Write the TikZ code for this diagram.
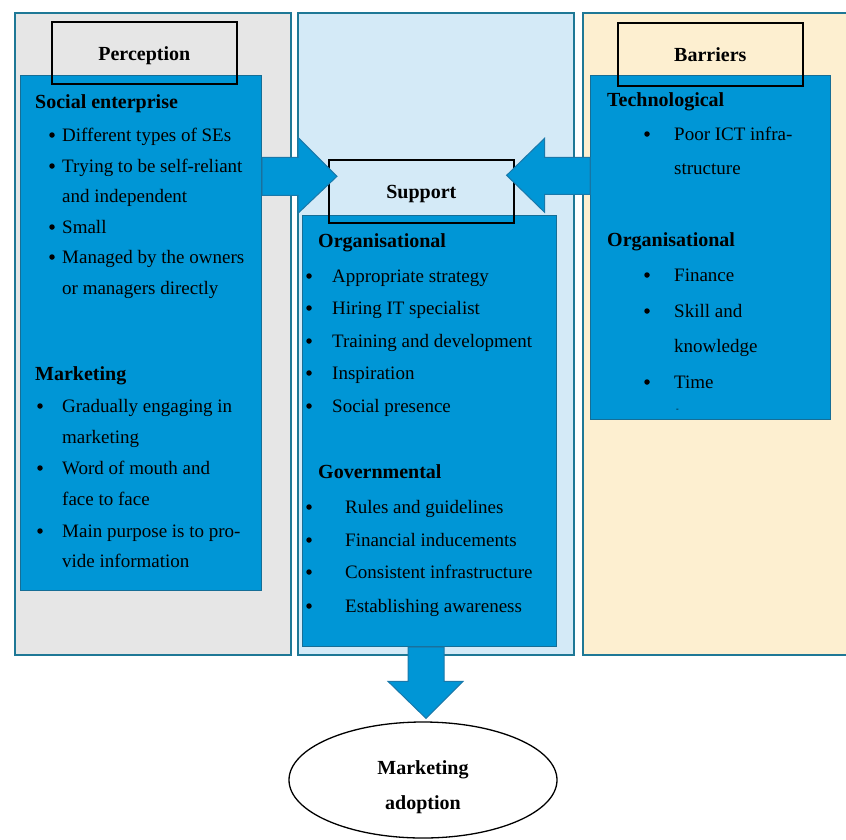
\documentclass[tikz,border=0pt]{standalone}
\usepackage{fontspec}
\setmainfont{Liberation Serif}
\usetikzlibrary{calc,shapes.geometric}

\definecolor{paneledge}{RGB}{30,120,150}
\definecolor{percgray}{RGB}{230,230,230}
\definecolor{suplight}{RGB}{212,234,247}
\definecolor{barcream}{RGB}{253,239,208}
\definecolor{boxblue}{RGB}{0,150,214}
\definecolor{boxedge}{RGB}{22,110,150}
\definecolor{arrowedge}{RGB}{25,120,170}

\newcommand{\headfont}{\fontsize{20}{24}\selectfont\bfseries}

\tikzset{
	panel/.style={rectangle, draw=paneledge, line width=2pt, anchor=north west, inner sep=0pt},
	bluebox/.style={rectangle, fill=boxblue, draw=boxedge, line width=1.2pt, anchor=north west, inner sep=0pt},
	titlebox/.style={rectangle, draw=black, line width=1.6pt, anchor=north west, inner sep=0pt, font=\headfont, text height=15pt, text depth=0pt},
	head/.style={anchor=base west, inner sep=0pt, font=\headfont},
	txt/.style={anchor=base west, inner sep=0pt},
	dot/.style={circle, fill=black, inner sep=0pt, minimum size=5.5pt},
	blockarrow/.style={fill=boxblue, draw=arrowedge, line width=1pt, line join=miter}
}

\begin{document}
\begin{tikzpicture}[x=1pt, y=-1pt, font=\fontsize{19}{23}\selectfont]
		\useasboundingbox (0,0) rectangle (846,839);
		\clip (0,0) rectangle (846,839);
		% Panels
		\node[panel, fill=percgray, minimum width=276pt, minimum height=642pt] (percpanel) at (14,12) {};
		\node[panel, fill=suplight, minimum width=276pt, minimum height=642pt] (suppanel) at (297,12) {};
		\node[panel, fill=barcream, minimum width=280pt, minimum height=642pt] (barpanel) at (582,12) {};
		% Blue boxes
		\node[bluebox, minimum width=241pt, minimum height=515pt] (percbox) at (20,75) {};
		\node[bluebox, minimum width=254pt, minimum height=431pt] (supbox) at (302,215) {};
		\node[bluebox, minimum width=240pt, minimum height=344pt] (barbox) at (590,75) {};
		% Title boxes
		\node[titlebox, minimum width=185pt, minimum height=62pt] (perctitle) at (51,21) {Perception};
		\node[titlebox, minimum width=185pt, minimum height=63pt] (suptitle) at (328,159) {Support};
		\node[titlebox, minimum width=185pt, minimum height=63pt] (bartitle) at (617,22) {Barriers};
		% Outcome
		\node[ellipse, draw, line width=1.3pt, minimum width=268pt, minimum height=116pt] (adopt) at (423,780) {};
		\node[align=center, inner sep=0pt, font=\fontsize{20}{35}\selectfont\bfseries] (adopttext) at ($(adopt.center)+(0,7)$) {Marketing\\adoption};
		% Arrows
		\coordinate (ltip) at ($(suptitle.west)+(9,-15)$);
		\coordinate (rtip) at ($(suptitle.east)+(-8,-16)$);
		\coordinate (dtip) at ($(adopt.north)+(3,-3)$);
		\draw[blockarrow] ($(percbox.east |- ltip)+(0,-19)$) -- ($(ltip)+(-39,-19)$) -- ($(ltip)+(-39,-39)$) -- (ltip)
			-- ($(ltip)+(-39,37)$) -- ($(ltip)+(-39,19)$) -- ($(percbox.east |- ltip)+(0,19)$) -- cycle;
		\draw[blockarrow] ($(barbox.west |- rtip)+(0,-18)$) -- ($(rtip)+(38,-18)$) -- ($(rtip)+(38,-37)$) -- (rtip)
			-- ($(rtip)+(38,37)$) -- ($(rtip)+(38,19)$) -- ($(barbox.west |- rtip)+(0,19)$) -- cycle;
		\draw[blockarrow] ($(dtip |- supbox.south)+(-18,0)$) -- ($(dtip)+(-18,-37)$) -- ($(dtip)+(-38,-37)$) -- (dtip)
			-- ($(dtip)+(37,-37)$) -- ($(dtip)+(18,-37)$) -- ($(dtip |- supbox.south)+(18,0)$) -- cycle;
		% Perception text
		\node[head] (se) at (35,108) {Social enterprise};
		\node[dot] (se1d) at (52,135) {};
		\node[txt] (se1) at (62,141) {Different types of SEs};
		\node[dot] (se2d) at (52,166) {};
		\node[txt] (se2) at (62,172) {Trying to be self-reliant};
		\node[txt] (se2b) at (62,202) {and independent};
		\node[dot] (se3d) at (52,227) {};
		\node[txt] (se3) at (62,233) {Small};
		\node[dot] (se4d) at (52,257) {};
		\node[txt] (se4) at (62,263) {Managed by the owners};
		\node[txt] (se4b) at (62,294) {or managers directly};
		\node[head] (mk) at (35,380) {Marketing};
		\node[dot] (mk1d) at (40,406) {};
		\node[txt] (mk1) at (62,412) {Gradually engaging in};
		\node[txt] (mk1b) at (62,443) {marketing};
		\node[dot] (mk2d) at (40,468) {};
		\node[txt] (mk2) at (62,474) {Word of mouth and};
		\node[txt] (mk2b) at (62,505) {face to face};
		\node[dot] (mk3d) at (40,531) {};
		\node[txt] (mk3) at (62,537) {Main purpose is to pro-};
		\node[txt] (mk3b) at (62,567) {vide information};
		% Support text
		\node[head] (so) at (318,247) {Organisational};
		\node[dot] (so1d) at (309,276) {};
		\node[txt] (so1) at (332,282) {Appropriate strategy};
		\node[dot] (so2d) at (309,308) {};
		\node[txt] (so2) at (332,314) {Hiring IT specialist};
		\node[dot] (so3d) at (309,341) {};
		\node[txt] (so3) at (332,347) {Training and development};
		\node[dot] (so4d) at (309,373) {};
		\node[txt] (so4) at (332,379) {Inspiration};
		\node[dot] (so5d) at (309,406) {};
		\node[txt] (so5) at (332,412) {Social presence};
		\node[head] (gv) at (318,478) {Governmental};
		\node[dot] (gv1d) at (309,507) {};
		\node[txt] (gv1) at (345,513) {Rules and guidelines};
		\node[dot] (gv2d) at (309,540) {};
		\node[txt] (gv2) at (345,546) {Financial inducements};
		\node[dot] (gv3d) at (309,572) {};
		\node[txt] (gv3) at (345,578) {Consistent infrastructure};
		\node[dot] (gv4d) at (309,606) {};
		\node[txt] (gv4) at (345,612) {Establishing awareness};
		% Barriers text
		\node[head] (tc) at (607,106) {Technological};
		\node[dot] (tc1d) at (647,134) {};
		\node[txt] (tc1) at (674,140) {Poor ICT infra-};
		\node[txt] (tc1b) at (674,174) {structure};
		\node[head] (bo) at (607,246) {Organisational};
		\node[dot] (bo1d) at (647,275) {};
		\node[txt] (bo1) at (674,281) {Finance};
		\node[dot] (bo2d) at (647,311) {};
		\node[txt] (bo2) at (674,317) {Skill and};
		\node[txt] (bo2b) at (674,352) {knowledge};
		\node[dot] (bo3d) at (647,382) {};
		\node[txt] (bo3) at (674,388) {Time};
		\node[txt, font=\fontsize{8}{8}\selectfont] (bodash) at (676,411) {-};
	\end{tikzpicture}
\end{document}
